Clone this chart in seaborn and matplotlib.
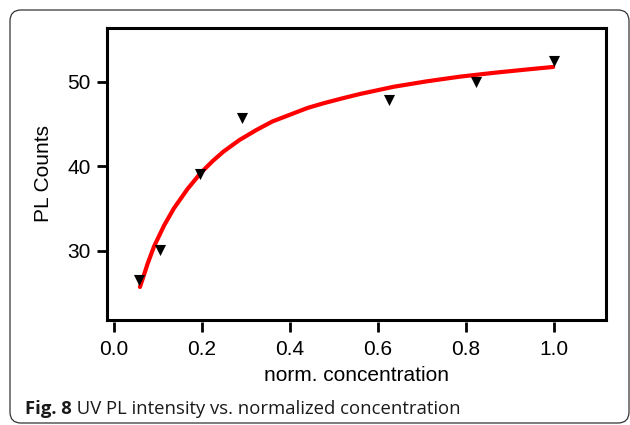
import matplotlib
matplotlib.use("Agg")
import matplotlib.pyplot as plt
import seaborn as sns
import pandas as pd
from matplotlib.patches import FancyBboxPatch

# ---- data ----
conc = [0.056, 0.104, 0.196, 0.290, 0.625, 0.823, 1.000]
counts = [26.5, 30.05, 39.1, 45.7, 47.8, 50.0, 52.4]

fit_x = [0.059, 0.068, 0.076, 0.091, 0.114, 0.136, 0.167, 0.197, 0.224, 0.248,
         0.285, 0.324, 0.360, 0.400, 0.440, 0.476, 0.520, 0.559, 0.635, 0.711,
         0.786, 0.862, 0.938, 0.998]
fit_y = [25.7, 27.1, 28.4, 30.5, 33.0, 35.0, 37.3, 39.2, 40.6, 41.7,
         43.1, 44.3, 45.3, 46.1, 46.9, 47.45, 48.05, 48.55, 49.4, 50.05,
         50.6, 51.05, 51.45, 51.75]

x_ticks = [0.0, 0.2, 0.4, 0.6, 0.8, 1.0]
x_tick_labels = ["0.0", "0.2", "0.4", "0.6", "0.8", "1.0"]
y_ticks = [30, 40, 50]
y_tick_labels = ["30", "40", "50"]

x_label = "norm. concentration"
y_label = "PL Counts"
caption_bold = "Fig. 8"
caption_rest = " UV PL intensity vs. normalized concentration"

points = pd.DataFrame({"conc": conc, "counts": counts})
fit = pd.DataFrame({"x": fit_x, "y": fit_y})

sns.set_theme(style="white")
plt.rcParams["font.family"] = ["Liberation Sans", "DejaVu Sans"]

fig = plt.figure(figsize=(6.3, 4.25), dpi=100)
ax = fig.add_axes([0.1703, 0.2471, 0.9619 - 0.1703, 0.9341 - 0.2471])

sns.lineplot(data=fit, x="x", y="y", ax=ax, color="#ff0000", lw=3.0, zorder=2)
sns.scatterplot(data=points, x="conc", y="counts", ax=ax, marker="v", s=64,
                color="black", edgecolor="black", linewidth=0, zorder=3)

ax.set_xlim(-0.0152, 1.118)
ax.set_ylim(21.8, 56.36)

for sp in ax.spines.values():
    sp.set_visible(True)
    sp.set_color("black")
    sp.set_linewidth(2.2)

ax.set_yticks(y_ticks)
ax.set_yticklabels(y_tick_labels)
ax.tick_params(axis="y", direction="out", length=7.4, width=2.0, pad=4.5,
               labelsize=15, colors="black", left=True)
ax.set_ylabel(y_label, fontsize=15, labelpad=10, color="black")

# detached x axis (ticks slightly below the frame)
ax.set_xticks(x_ticks)
ax.tick_params(axis="x", bottom=False, labelbottom=False)
ax.set_xlabel("")
sec = ax.secondary_xaxis(-0.0075)
sec.spines["bottom"].set_visible(False)
sec.set_xticks(x_ticks)
sec.set_xticklabels(x_tick_labels)
sec.tick_params(axis="x", direction="out", length=7.4, width=2.0, pad=5.5,
                labelsize=15, colors="black")
sec.set_xlabel(x_label, fontsize=15, labelpad=5, color="black")

# rounded frame around figure + caption
frame = FancyBboxPatch((10, 2), 619, 413, boxstyle="round,pad=0,rounding_size=11",
                       transform=None, fill=False, edgecolor="#333333", lw=0.9,
                       clip_on=False)
fig.patches.append(frame)

t1 = fig.text(25 / 630, 11 / 425, caption_bold, fontsize=13.3, fontweight="bold",
              family=["Open Sans", "DejaVu Sans"], color="#1a1a1a", va="baseline")
fig.canvas.draw()
bb = t1.get_window_extent()
fig.text(bb.x1 / 630, 11 / 425, caption_rest, fontsize=13.3,
         family=["Open Sans", "DejaVu Sans"], color="#1a1a1a", va="baseline")

fig.savefig("out.png", dpi=100)
